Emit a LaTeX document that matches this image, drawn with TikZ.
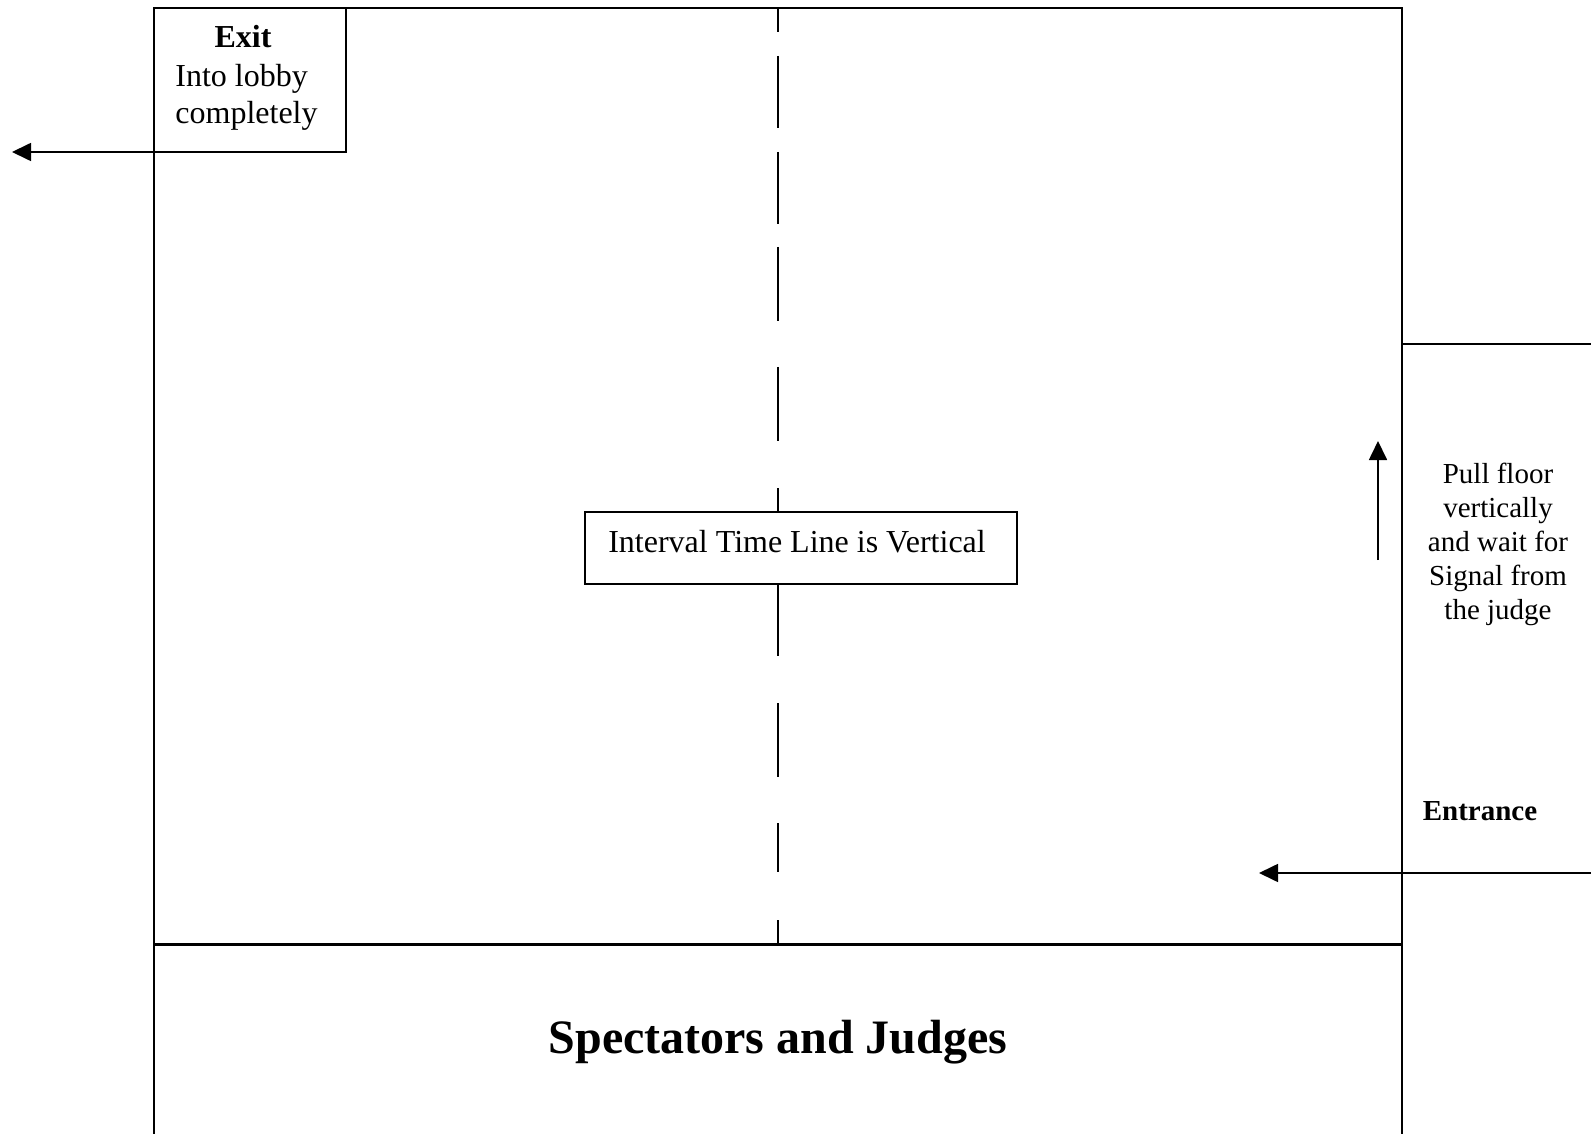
\documentclass[tikz,border=0pt]{standalone}
\usepackage{fontspec}
\setmainfont{Liberation Serif}
\usetikzlibrary{arrows.meta}
\begin{document}
\begin{tikzpicture}[x=0.5pt,y=-0.5pt,
  wall/.style={line width=0.85pt},
  floorline/.style={line width=1.5pt},
  dashseg/.style={line width=0.8pt},
  arr/.style={line width=0.85pt,-{Triangle[length=9.5pt,width=9pt]}},
  txt/.style={inner sep=0pt,anchor=base},
  boxtext/.style={txt,font=\fontsize{16}{18}\selectfont},
  sidetext/.style={txt,font=\fontsize{14.5}{17}\selectfont},
  framebox/.style={draw,wall,inner sep=0pt,outer sep=0pt},
]
\useasboundingbox[fill=white] (0,0) rectangle (1591,1134);

% main frame
\coordinate (tl) at (154,8);
\coordinate (tr) at (1402,8);
\coordinate (bl) at (154,1140);
\coordinate (br) at (1402,1140);
\coordinate (fl) at (154,944);
\coordinate (fr) at (1402,944);
\draw[wall] (bl) -- (tl) -- (tr) -- (br);
\draw[floorline] (fl) -- (fr);

% dashed interval line
\foreach \a/\b in {8/32,56/128,152/224,247/321,367/441,488/512,584/656,703/777,823/872,920/944}
  \draw[dashseg] (778,\a) -- (778,\b);

% exit box
\node[framebox,minimum width=96pt,minimum height=72pt,anchor=north west] (exitbox) at (154,8) {};
\node[boxtext] (exit1) at (243,48) {\textbf{Exit}};
\node[boxtext,anchor=base west] (exit2) at (175,87) {Into lobby};
\node[boxtext,anchor=base west] (exit3) at (175,124) {completely};
\coordinate (exitL) at (12,152);
\draw[arr] (exitbox.south west) -- (exitL);

% interval box
\node[framebox,minimum width=216pt,minimum height=36pt] (ivalbox) at (801,548) {};
\node[boxtext] (ivaltext) at (797,552) {Interval Time Line is Vertical};

% right side area
\coordinate (rt1) at (1402,344);
\coordinate (rt2) at (1595,344);
\draw[wall] (rt1) -- (rt2);
\coordinate (upS) at (1378,560);
\coordinate (upN) at (1378,441);
\draw[arr] (upS) -- (upN);
\node[sidetext] (r1) at (1498,483) {Pull floor};
\node[sidetext] (r2) at (1498,517) {vertically};
\node[sidetext] (r3) at (1498,551) {and wait for};
\node[sidetext] (r4) at (1498,585) {Signal from};
\node[sidetext] (r5) at (1498,619) {the judge};
\node[sidetext] (entr) at (1480,820) {\textbf{Entrance}};
\coordinate (entR) at (1591,873);
\coordinate (entL) at (1259,873);
\draw[arr] (entR) -- (entL);

% spectators
\node[txt,font=\fontsize{24}{28}\selectfont\bfseries] (spect) at (778,1053) {Spectators and Judges};
\end{tikzpicture}
\end{document}
